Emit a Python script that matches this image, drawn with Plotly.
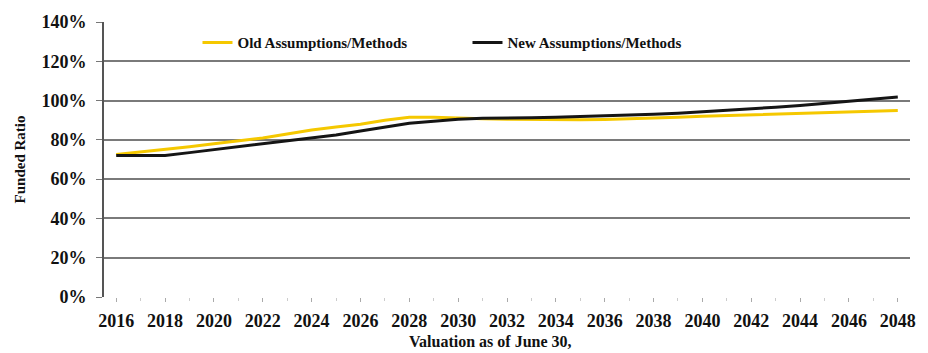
import plotly.graph_objects as go

years = list(range(2016, 2049))
old_assumptions = [72.5, 73.8, 75.0, 76.5, 78.0, 79.5, 81.0, 83.0, 85.0, 86.5, 88.0, 90.0, 91.5,
                   91.5, 91.0, 90.8, 90.5, 90.3, 90.2, 90.2, 90.4, 90.7, 91.0, 91.5, 92.0, 92.4,
                   92.8, 93.2, 93.6, 94.0, 94.4, 94.7, 95.0]
new_assumptions = [72.0, 72.0, 72.0, 73.5, 75.0, 76.5, 78.0, 79.5, 81.0, 82.5, 84.5, 86.5, 88.5,
                   89.5, 90.5, 91.0, 91.0, 91.2, 91.5, 91.8, 92.2, 92.6, 93.0, 93.6, 94.3, 95.0,
                   95.8, 96.6, 97.5, 98.5, 99.5, 100.6, 101.8]
x_tick_labels = [str(y) for y in range(2016, 2049, 2)]
y_ticks = [0, 20, 40, 60, 80, 100, 120, 140]

FONT = "Liberation Serif"
INK = "#111111"

fig = go.Figure()
fig.add_trace(go.Scatter(x=years, y=old_assumptions, mode="lines", name="Old Assumptions/Methods",
                         line=dict(color="#F5C800", width=3)))
fig.add_trace(go.Scatter(x=years, y=new_assumptions, mode="lines", name="New Assumptions/Methods",
                         line=dict(color="#151515", width=3)))

fig.update_layout(
    width=928, height=353,
    margin=dict(l=104, r=15, t=17, b=56),
    paper_bgcolor="white", plot_bgcolor="white",
    font=dict(family=FONT, color=INK, weight="bold"),
    showlegend=True,
    legend=dict(orientation="h", x=0.116, y=0.985, xanchor="left", yanchor="top",
                font=dict(family=FONT, size=15, color=INK, weight="bold"),
                bgcolor="rgba(0,0,0,0)", itemwidth=30, tracegroupgap=0,
                entrywidth=225),
    xaxis=dict(range=[2015.5, 2048.5], tickmode="array",
               tickvals=[int(v) for v in x_tick_labels], ticktext=x_tick_labels,
               showgrid=False, zeroline=False, showline=False,
               ticks="outside", ticklen=4, tickcolor="#aaaaaa",
               ticklabelstandoff=3,
               minor=dict(dtick=1, ticks="outside", ticklen=3, tickcolor="#cccccc"),
               tickfont=dict(family=FONT, size=18, color=INK, weight="bold")),
    yaxis=dict(range=[0, 140], tickmode="array", tickvals=y_ticks,
               ticktext=[f"{v}%" for v in y_ticks],
               showgrid=True, gridcolor="#7a7a7a", gridwidth=2,
               zeroline=False, showline=True, linecolor="#555555", linewidth=2,
               ticks="outside", ticklen=6, tickcolor="#777777",
               ticklabelstandoff=6,
               tickfont=dict(family=FONT, size=18, color=INK, weight="bold"),
               title=dict(text="Funded Ratio", standoff=12,
                          font=dict(family=FONT, size=15, color=INK, weight="bold"))),
)

fig.add_annotation(text="Valuation as of June 30,", xref="paper", yref="paper",
                   x=0.48, y=-0.163, xanchor="center", yanchor="middle", showarrow=False,
                   font=dict(family=FONT, size=16, color=INK, weight="bold"))

fig.write_html("out.html")
